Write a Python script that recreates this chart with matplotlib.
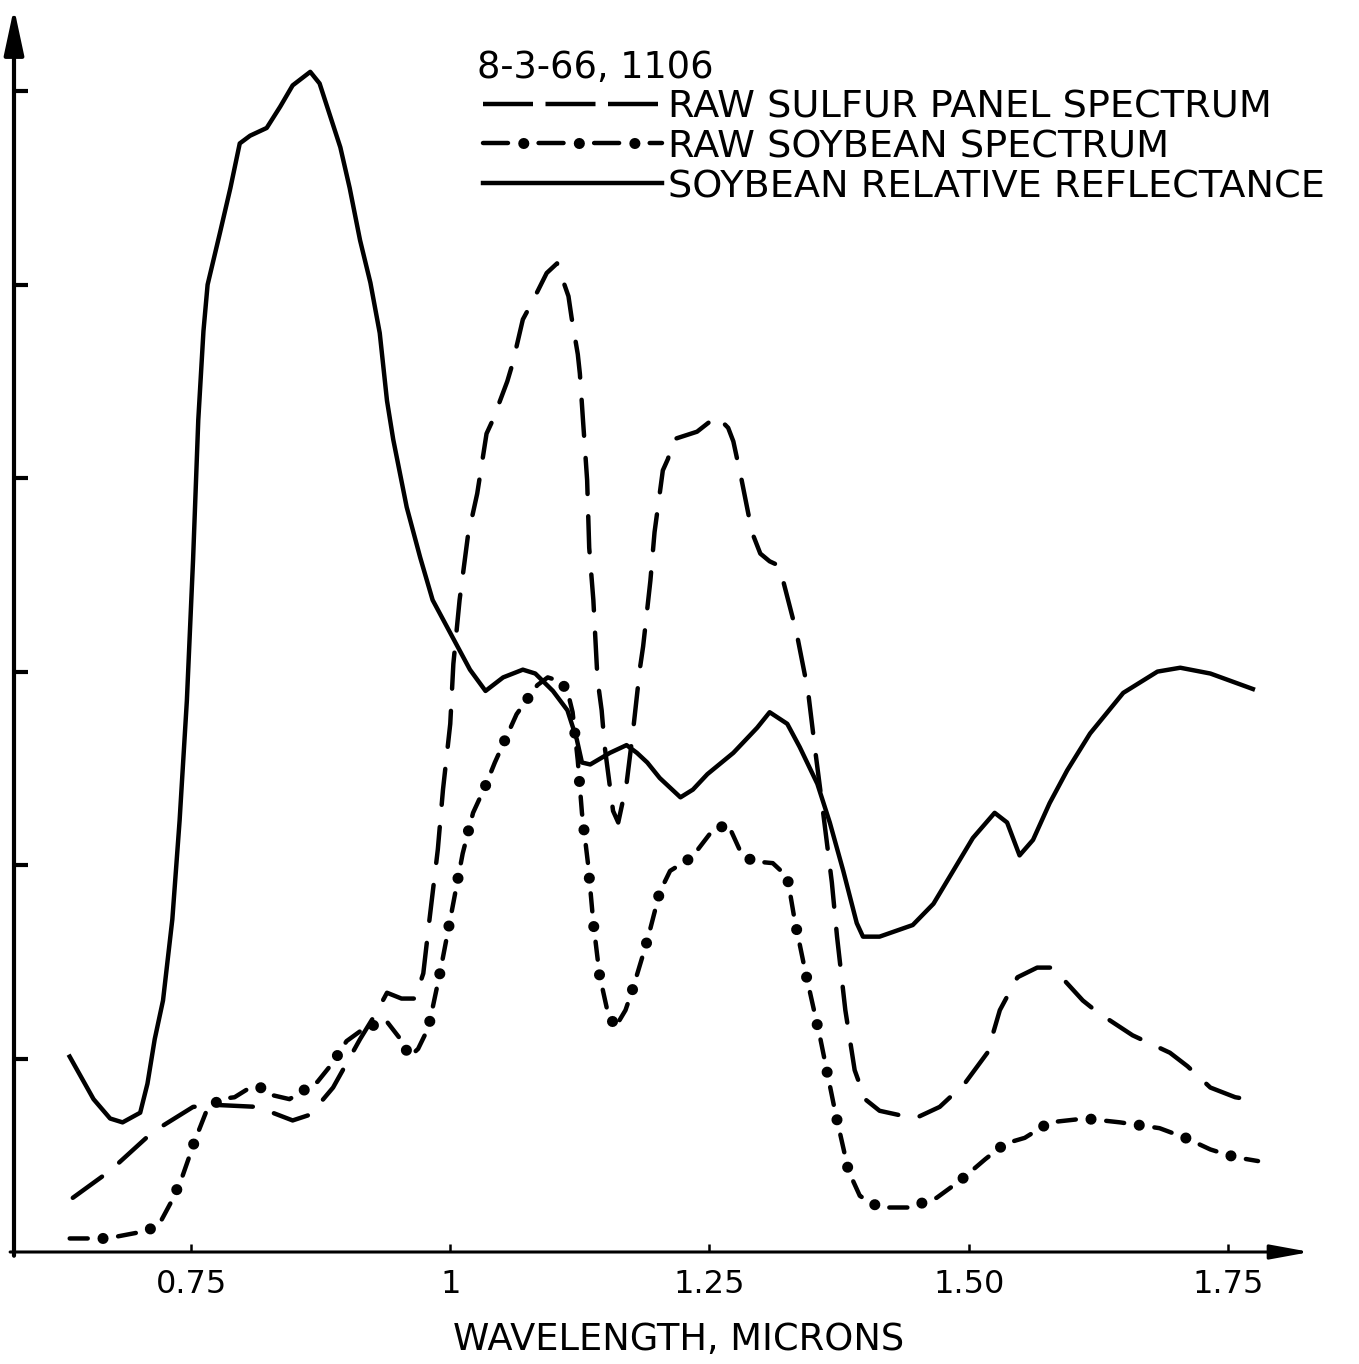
import matplotlib
matplotlib.use("Agg")
import matplotlib.pyplot as plt

plt.rcParams["font.family"] = ["DejaVu Sans"]
plt.rcParams["lines.scale_dashes"] = False

# ── data (wavelength in microns, height in tick units) ──────────────────────
wl_refl = [0.633, 0.656, 0.672, 0.684, 0.701, 0.708, 0.715, 0.723, 0.732, 0.739,
           0.746, 0.752, 0.757, 0.762, 0.766, 0.778, 0.788, 0.797, 0.807, 0.823,
           0.836, 0.848, 0.865, 0.874, 0.894, 0.903, 0.913, 0.923, 0.932, 0.939,
           0.945, 0.958, 0.971, 0.983, 1.005, 1.019, 1.034, 1.051, 1.070, 1.082,
           1.099, 1.113, 1.122, 1.127, 1.135, 1.154, 1.170, 1.180, 1.190, 1.202,
           1.222, 1.234, 1.248, 1.273, 1.296, 1.308, 1.325, 1.337, 1.354, 1.366,
           1.379, 1.392, 1.398, 1.414, 1.446, 1.466, 1.485, 1.504, 1.525, 1.537,
           1.549, 1.562, 1.578, 1.595, 1.617, 1.649, 1.682, 1.704, 1.733, 1.774]
refl = [1.01, 0.79, 0.69, 0.67, 0.72, 0.87, 1.10, 1.30, 1.72, 2.23,
        2.85, 3.58, 4.30, 4.76, 5.00, 5.27, 5.50, 5.73, 5.77, 5.81,
        5.92, 6.03, 6.10, 6.04, 5.71, 5.50, 5.23, 5.01, 4.75, 4.40,
        4.20, 3.85, 3.59, 3.37, 3.15, 3.01, 2.90, 2.97, 3.01, 2.99,
        2.90, 2.80, 2.65, 2.53, 2.52, 2.58, 2.62, 2.58, 2.53, 2.45,
        2.35, 2.39, 2.47, 2.58, 2.71, 2.79, 2.73, 2.61, 2.42, 2.22,
        1.97, 1.70, 1.63, 1.63, 1.69, 1.80, 1.97, 2.14, 2.27, 2.22,
        2.05, 2.13, 2.32, 2.49, 2.68, 2.89, 3.00, 3.02, 2.99, 2.91]

wl_sulfur = [0.636, 0.672, 0.713, 0.752, 0.775, 0.814, 0.848, 0.865, 0.887, 0.913,
             0.929, 0.939, 0.953, 0.966, 0.974, 0.980, 0.988, 0.993, 1.000, 1.003,
             1.009, 1.017, 1.026, 1.035, 1.041, 1.055, 1.060, 1.070, 1.079, 1.093,
             1.103, 1.114, 1.117, 1.123, 1.125, 1.128, 1.132, 1.134, 1.138, 1.142,
             1.146, 1.149, 1.157, 1.162, 1.170, 1.176, 1.183, 1.186, 1.193, 1.197,
             1.205, 1.210, 1.215, 1.238, 1.257, 1.268, 1.273, 1.281, 1.291, 1.299,
             1.308, 1.316, 1.321, 1.334, 1.345, 1.352, 1.358, 1.368, 1.373, 1.381,
             1.390, 1.400, 1.414, 1.448, 1.472, 1.496, 1.518, 1.530, 1.547, 1.566,
             1.581, 1.610, 1.624, 1.658, 1.694, 1.711, 1.733, 1.757, 1.779]
sulfur = [0.28, 0.42, 0.62, 0.75, 0.76, 0.75, 0.68, 0.71, 0.85, 1.10,
          1.24, 1.34, 1.31, 1.31, 1.44, 1.72, 2.08, 2.39, 2.73, 3.04,
          3.37, 3.70, 3.92, 4.23, 4.30, 4.50, 4.59, 4.82, 4.91, 5.06,
          5.11, 4.94, 4.83, 4.64, 4.54, 4.30, 3.99, 3.64, 3.37, 2.96,
          2.80, 2.61, 2.28, 2.22, 2.42, 2.68, 3.02, 3.13, 3.47, 3.72,
          4.04, 4.10, 4.20, 4.24, 4.32, 4.26, 4.19, 3.99, 3.72, 3.61,
          3.57, 3.55, 3.47, 3.20, 2.90, 2.59, 2.34, 1.91, 1.63, 1.25,
          0.94, 0.79, 0.73, 0.69, 0.75, 0.87, 1.03, 1.25, 1.42, 1.47,
          1.47, 1.30, 1.24, 1.12, 1.03, 0.96, 0.85, 0.80, 0.78]

wl_soy = [0.633, 0.669, 0.708, 0.720, 0.732, 0.741, 0.754, 0.765, 0.778, 0.792,
          0.807, 0.817, 0.829, 0.845, 0.872, 0.887, 0.900, 0.918, 0.939, 0.952,
          0.961, 0.969, 0.979, 0.990, 1.000, 1.012, 1.022, 1.034, 1.043, 1.064,
          1.084, 1.094, 1.106, 1.113, 1.118, 1.123, 1.127, 1.133, 1.138, 1.144,
          1.151, 1.159, 1.169, 1.176, 1.190, 1.202, 1.212, 1.233, 1.253, 1.268,
          1.279, 1.291, 1.311, 1.325, 1.332, 1.342, 1.357, 1.371, 1.384, 1.395,
          1.414, 1.443, 1.469, 1.492, 1.516, 1.535, 1.554, 1.578, 1.612, 1.646,
          1.684, 1.709, 1.733, 1.757, 1.779]
soy = [0.07, 0.07, 0.11, 0.15, 0.27, 0.38, 0.58, 0.73, 0.79, 0.80,
       0.85, 0.85, 0.81, 0.79, 0.88, 0.98, 1.09, 1.16, 1.19, 1.10,
       1.01, 1.05, 1.16, 1.44, 1.72, 2.06, 2.27, 2.41, 2.53, 2.78,
       2.93, 2.97, 2.95, 2.90, 2.79, 2.54, 2.27, 2.00, 1.70, 1.43,
       1.26, 1.16, 1.25, 1.36, 1.61, 1.86, 1.97, 2.04, 2.18, 2.21,
       2.08, 2.02, 2.01, 1.94, 1.72, 1.46, 1.10, 0.73, 0.42, 0.29,
       0.23, 0.23, 0.28, 0.37, 0.48, 0.56, 0.59, 0.67, 0.69, 0.67,
       0.64, 0.59, 0.53, 0.49, 0.47]

x_ticks = [0.75, 1.0, 1.25, 1.50, 1.75]
x_tick_labels = ["0.75", "1", "1.25", "1.50", "1.75"]
y_ticks = [1, 2, 3, 4, 5, 6]

title_text = "8-3-66, 1106"
legend_labels = ["RAW SULFUR PANEL SPECTRUM",
                 "RAW SOYBEAN SPECTRUM",
                 "SOYBEAN RELATIVE REFLECTANCE"]

LW = 3.2
DASHED = (0, (26, 16))


def dash_dot(x, y, dash, gap, dot_size, **kw):
    # dash segments plus round dots centred in every gap
    period = dash + gap
    ax.plot(x, y, color="black", lw=LW, linestyle=(0, (dash, gap)),
            dash_capstyle="round", solid_capstyle="round", **kw)
    ax.plot(x, y, color="black", lw=dot_size,
            linestyle=(gap / 2, (0.01, period - 0.01)),
            dash_capstyle="round", **kw)


fig = plt.figure(figsize=(13.59, 13.64), dpi=100)
ax = fig.add_axes([14 / 1359, 112 / 1364, 1296 / 1359, 1244 / 1364])

# ── curves ──────────────────────────────────────────────────────────────────
ax.plot(wl_refl, refl, color="black", lw=LW, solid_joinstyle="round")
ax.plot(wl_sulfur, sulfur, color="black", lw=LW, linestyle=DASHED,
        dash_capstyle="round")
dash_dot(wl_soy, soy, 13, 22, 8)

ax.set_xlim(0.5793, 1.8291)
ax.set_ylim(0, 6.43)

# ── axes with arrows ────────────────────────────────────────────────────────
for s in ax.spines.values():
    s.set_visible(False)
ax.annotate("", xy=(0, 1), xytext=(0, -0.003), xycoords="axes fraction",
            arrowprops=dict(arrowstyle="-|>,head_length=1.4,head_width=0.3",
                            lw=3, color="black", shrinkA=0, shrinkB=0,
                            mutation_scale=20))
ax.annotate("", xy=(1, 0), xytext=(-0.003, 0), xycoords="axes fraction",
            arrowprops=dict(arrowstyle="-|>,head_length=1.2,head_width=0.22",
                            lw=2.2, color="black", shrinkA=0, shrinkB=0,
                            mutation_scale=20))

ax.set_yticks(y_ticks)
ax.set_yticklabels([])
ax.tick_params(axis="y", direction="in", length=10, width=3)
ax.set_xticks(x_ticks)
ax.set_xticklabels(x_tick_labels)
ax.tick_params(axis="x", direction="in", length=6, width=1.8,
               labelsize=23, pad=12)

fig.text(679 / 1359, 1 - 1350 / 1364, "WAVELENGTH, MICRONS",
         ha="center", va="baseline", fontsize=26.5)

# ── hand-made legend ────────────────────────────────────────────────────────
tf = fig.transFigure
lx0, lx1 = 483 / 1359, 662 / 1359
rows = [1 - 104 / 1364, 1 - 143 / 1364, 1 - 183 / 1364]

fig.text(477 / 1359, 1 - 78 / 1364, title_text, ha="left", va="baseline",
         fontsize=26.5)
ax.plot([lx0, lx1], [rows[0]] * 2, transform=tf, clip_on=False,
        color="black", lw=LW, linestyle=(0, (36, 9)))
dash_dot([lx0, lx1], [rows[1]] * 2, 18, 22, 8, transform=tf, clip_on=False)
ax.plot([lx0, lx1], [rows[2]] * 2, transform=tf, clip_on=False,
        color="black", lw=LW)
for yy, lab in zip(rows, legend_labels):
    fig.text(668 / 1359, yy - 14 / 1364, lab, ha="left", va="baseline",
             fontsize=27.5)

fig.savefig("out.png", dpi=100, facecolor="white")
